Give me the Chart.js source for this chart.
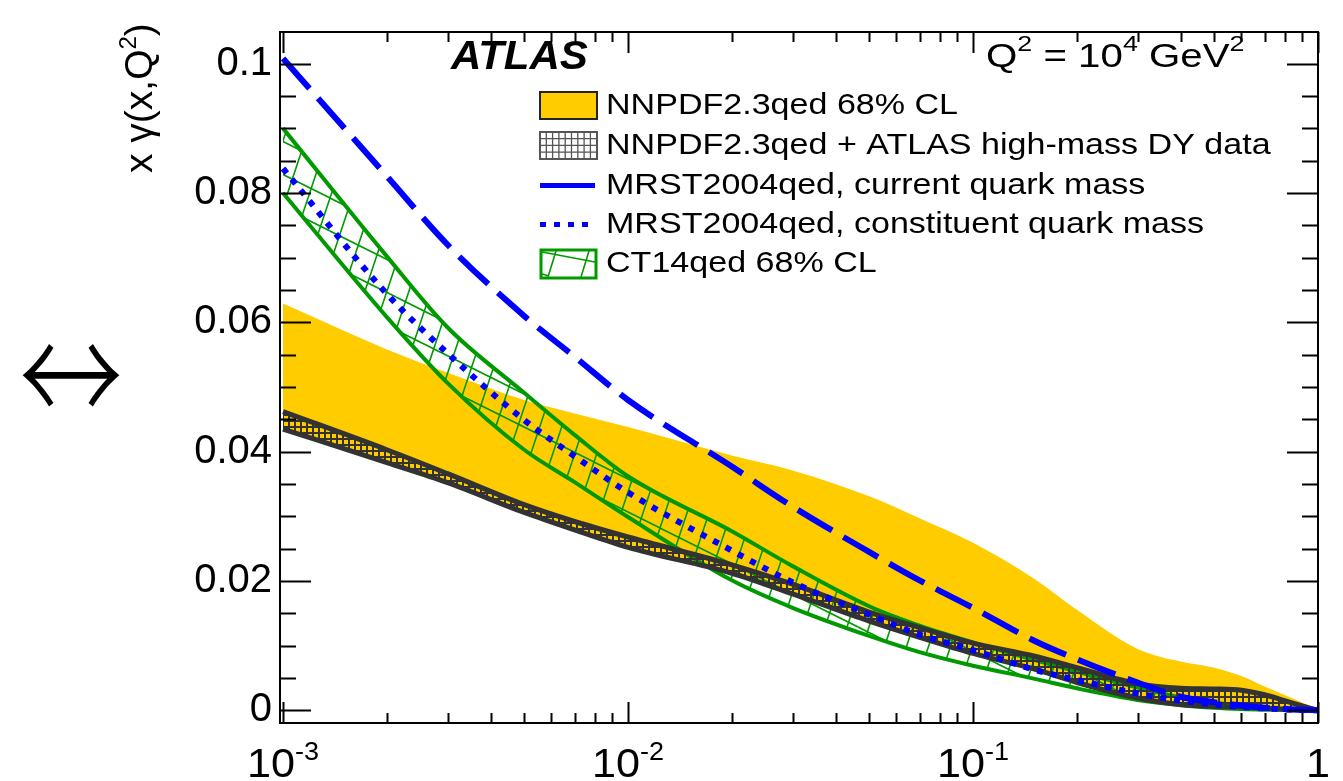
<!DOCTYPE html>
<html>
<head>
<meta charset="utf-8">
<script src="https://cdn.jsdelivr.net/npm/chart.js@4.4.1/dist/chart.umd.min.js"></script>
<style>
  html, body { margin: 0; padding: 0; background: #fff; }
  canvas { display: block; }
</style>
</head>
<body>
<canvas id="c" width="1343" height="781"></canvas>
<script>
// ---------------- data ----------------
const xValues = [0.001, 0.002, 0.003, 0.005, 0.007, 0.01, 0.02, 0.03, 0.05, 0.07, 0.1,
                 0.15, 0.2, 0.3, 0.4, 0.5, 0.6, 0.7, 0.8, 0.9, 1.0];

const nnpdfUpper = [0.0629, 0.0558, 0.0522, 0.0480, 0.0459, 0.0438, 0.0394, 0.0371, 0.0331, 0.0297, 0.0259,
                    0.0204, 0.01555, 0.0095, 0.00755, 0.0066, 0.0053, 0.00367, 0.00237, 0.0012, 0];
const dyUpper    = [0.0462, 0.0403, 0.0366, 0.0318, 0.0292, 0.0268, 0.0225, 0.0195, 0.0152, 0.0128, 0.0104,
                    0.0084, 0.0066, 0.0041, 0.0034, 0.0033, 0.0031, 0.0024, 0.0015, 0.0007, 0];
const dyLower    = [0.0435, 0.0383, 0.0352, 0.0306, 0.0279, 0.0252, 0.0212, 0.0180, 0.0138, 0.0113, 0.0088,
                    0.0064, 0.0043, 0.0019, 0.0009, 0.0006, 0.0005, 0.0003, 0.00015, 0.00005, 0];
const ctUpper    = [0.0900, 0.0702, 0.0592, 0.0491, 0.0426, 0.0362, 0.0277, 0.0223, 0.0161, 0.0131, 0.0105,
                    0.0078, 0.0060, 0.0035, 0.0020, 0.0012, 0.0007, 0.0004, 0.0002, 0.0001, 0];
const ctLower    = [0.0800, 0.0608, 0.0506, 0.0403, 0.0353, 0.0299, 0.0201, 0.01585, 0.0115, 0.0090, 0.0069,
                    0.0049, 0.0034, 0.0016, 0.0008, 0.0004, 0.0002, 0.0001, 0.00005, 0, 0];
const mrstCurrent = [0.1008, 0.0826, 0.0720, 0.0610, 0.0547, 0.0480, 0.0377, 0.0315, 0.0245, 0.0201, 0.01585,
                     0.0108, 0.0079, 0.0043, 0.0021, 0.00125, 0.00075, 0.0004, 0.0002, 0.0001, 0];
const mrstConstituent = [0.0838, 0.0644, 0.0552, 0.0449, 0.0393, 0.0337, 0.0247, 0.0198, 0.0148, 0.0117, 0.0093,
                         0.0063, 0.0047, 0.0026, 0.0015, 0.0009, 0.0005, 0.0003, 0.00015, 0.00005, 0];

const yTickValues = [0, 0.02, 0.04, 0.06, 0.08, 0.1];
const xMajorTicks = [0.001, 0.01, 0.1, 1];
const xTickLabels = [["10", "-3"], ["10", "-2"], ["10", "-1"], ["1", ""]];
const legendLabels = ["NNPDF2.3qed 68% CL",
                      "NNPDF2.3qed + ATLAS high-mass DY data",
                      "MRST2004qed, current quark mass",
                      "MRST2004qed, constituent quark mass",
                      "CT14qed 68% CL"];

// ---------------- styles ----------------
const YELLOW = '#ffcc00', DARK = '#333333', GREEN = '#009a00', BLUE = '#0000ff';
const SANS = '"Liberation Sans", Arial, Helvetica, sans-serif';

const canvas = document.getElementById('c');
const ctx = canvas.getContext('2d');

function gridPattern() {
  const c = document.createElement('canvas'); c.width = 6; c.height = 6;
  const g = c.getContext('2d');
  g.fillStyle = DARK;
  g.fillRect(0, 0, 6, 2);
  g.fillRect(0, 0, 2, 6);
  return ctx.createPattern(c, 'repeat');
}
function hatchPattern() {
  const c = document.createElement('canvas'); c.width = 66; c.height = 66;
  const g = c.getContext('2d');
  g.strokeStyle = GREEN; g.lineWidth = 1.6;
  g.beginPath();
  for (let k = -1; k <= 3; k++) { g.moveTo(22 * k + 22, 0); g.lineTo(22 * k, 66); }
  for (let k = -2; k <= 2; k++) { g.moveTo(0, 33 * k); g.lineTo(66, 33 * k + 33); }
  g.stroke();
  return ctx.createPattern(c, 'repeat');
}

const pts = arr => xValues.map((x, i) => ({ x: x, y: arr[i] }));

const X_MIN = Math.pow(10, -3 - 3 / 345);
const Y_MIN = -13 / 6625, Y_MAX = 695 / 6625;

function drawText(c, text, x, y, size, opts) {
  opts = opts || {};
  c.save();
  c.font = (opts.italic ? 'italic ' : '') + (opts.bold ? 'bold ' : '') + size + 'px ' + SANS;
  c.fillStyle = '#000';
  c.textBaseline = 'alphabetic';
  c.textAlign = 'left';
  const sx = opts.scaleX || 1;
  c.translate(x, y);
  c.scale(sx, 1);
  c.fillText(text, 0, 0);
  const w = c.measureText(text).width * sx;
  c.restore();
  return w;
}
// parts: [[text, isSup], ...]
function richWidth(c, parts, size, sx, supK) {
  let w = 0;
  parts.forEach(p => {
    c.font = (p[1] ? Math.round(size * supK) : size) + 'px ' + SANS;
    w += c.measureText(p[0]).width * sx;
  });
  return w;
}
function drawRich(c, parts, x, y, size, sx, supK, raise) {
  let cx = x;
  parts.forEach(p => {
    if (!p[0]) return;
    if (p[1]) cx += drawText(c, p[0], cx, y - size * raise, Math.round(size * supK), { scaleX: sx });
    else cx += drawText(c, p[0], cx, y, size, { scaleX: sx });
  });
  return cx - x;
}

const decor = {
  id: 'decor',
  afterDraw(chart) {
    const c = chart.ctx, a = chart.chartArea;
    const xs = chart.scales.x, ys = chart.scales.y;
    c.save();
    // frame
    c.strokeStyle = '#000'; c.lineWidth = 2;
    c.strokeRect(a.left, a.top, a.right - a.left, a.bottom - a.top);
    // y ticks (both sides, inward)
    c.beginPath();
    for (let i = 0; i <= 20; i++) {
      const v = i * 0.005;
      const py = Math.round(ys.getPixelForValue(v)) + 0.5;
      const L = (i % 4 === 0) ? 31 : 16;
      c.moveTo(a.left, py); c.lineTo(a.left + L, py);
      c.moveTo(a.right, py); c.lineTo(a.right - L, py);
    }
    // x ticks (bottom & top, inward)
    for (let d = -3; d <= 0; d++) {
      for (let k = 1; k <= 9; k++) {
        const v = k * Math.pow(10, d);
        if (v > 1.0001) break;
        const px = Math.round(xs.getPixelForValue(v)) + 0.5;
        const L = k === 1 ? 21 : 10;
        c.moveTo(px, a.bottom); c.lineTo(px, a.bottom - L);
        c.moveTo(px, a.top); c.lineTo(px, a.top + L);
      }
    }
    c.stroke();

    // x tick labels with superscripts
    xMajorTicks.forEach((v, i) => {
      const parts = [[xTickLabels[i][0], false], [xTickLabels[i][1], true]];
      const w = richWidth(c, parts, 40, 1.08, 0.62);
      const px = xs.getPixelForValue(v);
      drawRich(c, parts, px - w / 2, 777, 40, 1.08, 0.62, 0.42);
    });

    // y axis title, rotated
    c.save();
    c.translate(152, 173);
    c.rotate(-Math.PI / 2);
    drawRich(c, [["x \u03b3(x,Q", false], ["2", true], [")", false]], 0, 0, 39, 1.0, 0.62, 0.42);
    c.restore();

    // stray arrow symbol at the left
    c.save();
    c.font = '300 104px "Noto Sans CJK JP", "DejaVu Sans", sans-serif';
    c.fillStyle = '#000';
    c.textAlign = 'center';
    c.textBaseline = 'middle';
    c.translate(71, 375);
    c.scale(1, 1.3);
    c.fillText('\u2194', 0, 0);
    c.restore();

    // ATLAS
    drawText(c, 'ATLAS', 451, 69, 40, { bold: true, italic: true, scaleX: 1.05 });
    // Q^2 label
    drawRich(c, [["Q", false], ["2", true], [" = 10", false], ["4", true], [" GeV", false], ["2", true]],
             986, 67, 33, 1.22, 0.66, 0.5);

    // legend
    const bx = 540, bw = 57, tx = 606;
    // 1: yellow box
    c.fillStyle = YELLOW; c.fillRect(bx, 92, bw, 27);
    c.strokeStyle = '#222'; c.lineWidth = 2; c.strokeRect(bx, 92, bw, 27);
    // 2: grid box
    c.fillStyle = '#fff'; c.fillRect(bx, 132, bw, 27);
    c.strokeStyle = '#555'; c.lineWidth = 1.3;
    c.beginPath();
    for (let gx = bx + 6.3; gx < bx + bw; gx += 6.3) { c.moveTo(gx, 132); c.lineTo(gx, 159); }
    for (let gy = 132 + 6.7; gy < 159; gy += 6.7) { c.moveTo(bx, gy); c.lineTo(bx + bw, gy); }
    c.stroke();
    c.lineWidth = 2; c.strokeRect(bx, 132, bw, 27);
    // 3: line sample
    c.strokeStyle = BLUE; c.lineWidth = 5;
    c.beginPath(); c.moveTo(bx, 185.5); c.lineTo(bx + 55, 185.5); c.stroke();
    // 4: dotted sample
    c.setLineDash([6, 8]);
    c.beginPath(); c.moveTo(bx, 224.5); c.lineTo(bx + 55, 224.5); c.stroke();
    c.setLineDash([]);
    // 5: green hatched box
    c.strokeStyle = GREEN; c.lineWidth = 3;
    c.strokeRect(bx + 1, 250, bw - 2, 28);
    c.lineWidth = 1.6;
    c.beginPath();
    c.moveTo(bx + 2, 252); c.lineTo(bx + bw - 2, 262);
    c.moveTo(bx + 8, 277); c.lineTo(bx + 16, 251);
    c.moveTo(bx + 41, 277); c.lineTo(bx + 49, 251);
    c.moveTo(bx + 2, 274); c.lineTo(bx + 9, 276);
    c.stroke();
    const base = [114, 154, 194, 233, 272];
    legendLabels.forEach((t, i) => drawText(c, t, tx, base[i], 30, { scaleX: 1.135 }));
    c.restore();
  }
};

const chart = new Chart(ctx, {
  type: 'line',
  data: {
    datasets: [
      { label: 'nnpdfLo', data: pts(dyLower), borderWidth: 0, borderColor: 'rgba(0,0,0,0)', fill: false, order: 10, cubicInterpolationMode: 'monotone' },
      { label: legendLabels[0], data: pts(nnpdfUpper), borderWidth: 0, borderColor: 'rgba(0,0,0,0)', backgroundColor: YELLOW, fill: '-1', order: 10, cubicInterpolationMode: 'monotone' },
      { label: 'ctLo', data: pts(ctLower), borderWidth: 4, borderColor: GREEN, fill: false, order: 8, cubicInterpolationMode: 'monotone' },
      { label: legendLabels[4], data: pts(ctUpper), borderWidth: 4, borderColor: GREEN, backgroundColor: hatchPattern(), fill: '-1', order: 8, cubicInterpolationMode: 'monotone' },
      { label: 'dyLo', data: pts(dyLower), borderWidth: 5, borderColor: DARK, fill: false, order: 6, cubicInterpolationMode: 'monotone' },
      { label: legendLabels[1], data: pts(dyUpper), borderWidth: 5, borderColor: DARK, backgroundColor: gridPattern(), fill: '-1', order: 6, cubicInterpolationMode: 'monotone' },
      { label: legendLabels[3], data: pts(mrstConstituent), borderWidth: 6, borderColor: BLUE, borderDash: [6, 8], borderCapStyle: 'butt', fill: false, order: 4, cubicInterpolationMode: 'monotone' },
      { label: legendLabels[2], data: pts(mrstCurrent), borderWidth: 6, borderColor: BLUE, borderDash: [40, 13], borderCapStyle: 'butt', fill: false, order: 2, cubicInterpolationMode: 'monotone' }
    ]
  },
  options: {
    responsive: false,
    animation: false,
    layout: { padding: { left: 0, right: 25, top: 15, bottom: 0 } },
    elements: { point: { radius: 0, hoverRadius: 0 } },
    plugins: { legend: { display: false }, tooltip: { enabled: false }, filler: { propagate: false } },
    events: [],
    scales: {
      x: {
        type: 'logarithmic', min: X_MIN, max: 1,
        grid: { display: false }, border: { display: false },
        ticks: { display: false },
        afterFit: s => { s.height = 58; }
      },
      y: {
        type: 'linear', min: Y_MIN, max: Y_MAX,
        grid: { display: false, drawTicks: false }, border: { display: false },
        ticks: {
          color: '#000', padding: 8,
          font: { family: SANS, size: 40 },
          callback: v => (Math.abs(v) < 1e-9 ? '0' : String(+v.toFixed(2)))
        },
        afterBuildTicks: s => { s.ticks = yTickValues.map(v => ({ value: v })); },
        afterFit: s => { s.width = 280; }
      }
    }
  },
  plugins: [decor]
});
</script>
</body>
</html>
